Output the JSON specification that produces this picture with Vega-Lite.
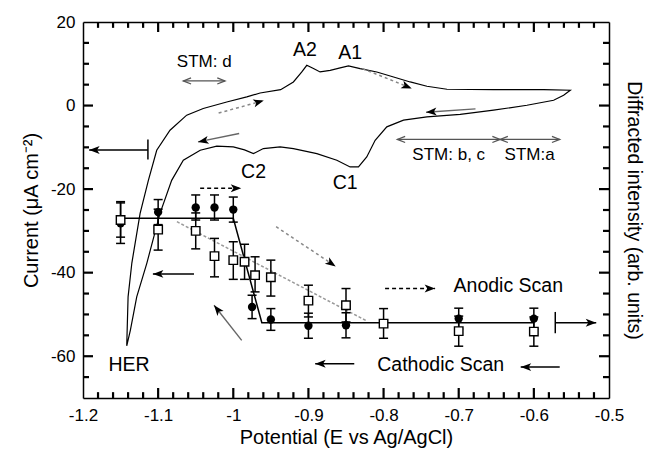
{
  "$schema": "https://vega.github.io/schema/vega-lite/v6.json",
  "width": 526,
  "height": 376,
  "autosize": "none",
  "padding": {"left": 83, "top": 22, "right": 37, "bottom": 52},
  "background": "white",
  "config": {
    "font": "Liberation Sans",
    "view": {"stroke": null},
    "axis": {
      "grid": false,
      "domainColor": "black",
      "domainWidth": 1.5,
      "labelColor": "black",
      "titleColor": "black",
      "labelFont": "Liberation Sans",
      "titleFont": "Liberation Sans",
      "labelFontSize": 17,
      "titleFontSize": 20,
      "titleFontWeight": "normal",
      "labelOverlap": false
    }
  },
  "datasets": {
    "xticks": [
      {"v": -1.1, "major": true}, {"v": -1.0, "major": true}, {"v": -0.9, "major": true}, {"v": -0.8, "major": true}, {"v": -0.7, "major": true}, {"v": -0.6, "major": true},
      {"v": -1.18, "major": false}, {"v": -1.16, "major": false}, {"v": -1.14, "major": false}, {"v": -1.12, "major": false}, {"v": -1.08, "major": false}, {"v": -1.06, "major": false}, {"v": -1.04, "major": false}, {"v": -1.02, "major": false}, {"v": -0.98, "major": false}, {"v": -0.96, "major": false}, {"v": -0.94, "major": false}, {"v": -0.92, "major": false}, {"v": -0.88, "major": false}, {"v": -0.86, "major": false}, {"v": -0.84, "major": false}, {"v": -0.82, "major": false}, {"v": -0.78, "major": false}, {"v": -0.76, "major": false}, {"v": -0.74, "major": false}, {"v": -0.72, "major": false}, {"v": -0.68, "major": false}, {"v": -0.66, "major": false}, {"v": -0.64, "major": false}, {"v": -0.62, "major": false}, {"v": -0.58, "major": false}, {"v": -0.56, "major": false}, {"v": -0.54, "major": false}, {"v": -0.52, "major": false}
    ],
    "yticks": [
      {"v": -60, "major": true}, {"v": -40, "major": true}, {"v": -20, "major": true}, {"v": 0, "major": true},
      {"v": -65, "major": false}, {"v": -55, "major": false}, {"v": -50, "major": false}, {"v": -45, "major": false}, {"v": -35, "major": false}, {"v": -30, "major": false}, {"v": -25, "major": false}, {"v": -15, "major": false}, {"v": -10, "major": false}, {"v": -5, "major": false}, {"v": 5, "major": false}, {"v": 10, "major": false}, {"v": 15, "major": false}
    ],
    "cv": [
      {"i": 1, "x": -1.1418, "y": -57.5},
      {"i": 2, "x": -1.140, "y": -45.8},
      {"i": 3, "x": -1.135, "y": -37.7},
      {"i": 4, "x": -1.124, "y": -25.8},
      {"i": 5, "x": -1.113, "y": -17.9},
      {"i": 6, "x": -1.1019, "y": -10.7},
      {"i": 7, "x": -1.0842, "y": -5.9},
      {"i": 8, "x": -1.062, "y": -2.3},
      {"i": 9, "x": -1.040, "y": -0.7},
      {"i": 10, "x": -1.0087, "y": 0.86},
      {"i": 11, "x": -0.982, "y": 2.06},
      {"i": 12, "x": -0.9643, "y": 3.0},
      {"i": 13, "x": -0.937, "y": 3.8},
      {"i": 14, "x": -0.92, "y": 5.65},
      {"i": 15, "x": -0.9088, "y": 8.04},
      {"i": 16, "x": -0.9022, "y": 9.64},
      {"i": 17, "x": -0.8933, "y": 8.85},
      {"i": 18, "x": -0.8845, "y": 8.04},
      {"i": 19, "x": -0.8711, "y": 8.44},
      {"i": 20, "x": -0.8578, "y": 9.0},
      {"i": 21, "x": -0.8467, "y": 9.48},
      {"i": 22, "x": -0.8312, "y": 8.85},
      {"i": 23, "x": -0.809, "y": 8.04},
      {"i": 24, "x": -0.7867, "y": 6.84},
      {"i": 25, "x": -0.7646, "y": 5.65},
      {"i": 26, "x": -0.7423, "y": 4.62},
      {"i": 27, "x": -0.7157, "y": 3.9},
      {"i": 28, "x": -0.6536, "y": 3.83},
      {"i": 29, "x": -0.587, "y": 3.83},
      {"i": 30, "x": -0.5515, "y": 3.66},
      {"i": 31, "x": -0.5604, "y": 2.46},
      {"i": 32, "x": -0.5737, "y": 1.27},
      {"i": 33, "x": -0.6092, "y": 0.07},
      {"i": 34, "x": -0.6536, "y": -1.1},
      {"i": 35, "x": -0.698, "y": -2.1},
      {"i": 36, "x": -0.7423, "y": -2.7},
      {"i": 37, "x": -0.7735, "y": -3.5},
      {"i": 38, "x": -0.7957, "y": -5.1},
      {"i": 39, "x": -0.8112, "y": -8.3},
      {"i": 40, "x": -0.8224, "y": -12.3},
      {"i": 41, "x": -0.8334, "y": -14.7},
      {"i": 42, "x": -0.8445, "y": -14.7},
      {"i": 43, "x": -0.8622, "y": -13.1},
      {"i": 44, "x": -0.8888, "y": -11.5},
      {"i": 45, "x": -0.92, "y": -10.3},
      {"i": 46, "x": -0.9377, "y": -9.9},
      {"i": 47, "x": -0.96, "y": -10.3},
      {"i": 48, "x": -0.9732, "y": -11.5},
      {"i": 49, "x": -0.985, "y": -10.6},
      {"i": 50, "x": -1.0, "y": -9.9},
      {"i": 51, "x": -1.022, "y": -9.7},
      {"i": 52, "x": -1.044, "y": -10.7},
      {"i": 53, "x": -1.0665, "y": -13.1},
      {"i": 54, "x": -1.082, "y": -17.9},
      {"i": 55, "x": -1.0975, "y": -25.8},
      {"i": 56, "x": -1.115, "y": -37.7},
      {"i": 57, "x": -1.1285, "y": -45.8},
      {"i": 58, "x": -1.137, "y": -53.8},
      {"i": 59, "x": -1.1418, "y": -57.5}
    ],
    "fit": [
      {"i": 1, "x": -1.15, "y": -27},
      {"i": 2, "x": -1.0, "y": -27},
      {"i": 3, "x": -0.962, "y": -52},
      {"i": 4, "x": -0.6, "y": -52}
    ],
    "trend": [
      {"i": 1, "x": -1.075, "y": -27.8},
      {"i": 2, "x": -0.823, "y": -51.5}
    ],
    "pts": [
      {"type": "circle", "x": -1.15, "y": -28.2, "lo": -33.0, "hi": -23.0},
      {"type": "circle", "x": -1.1, "y": -25.5, "lo": -28.5, "hi": -22.5},
      {"type": "circle", "x": -1.05, "y": -24.4, "lo": -27.4, "hi": -21.4},
      {"type": "circle", "x": -1.025, "y": -24.4, "lo": -27.4, "hi": -21.4},
      {"type": "circle", "x": -1.0, "y": -24.9, "lo": -27.9, "hi": -21.9},
      {"type": "circle", "x": -0.975, "y": -48.2, "lo": -51.0, "hi": -45.4},
      {"type": "circle", "x": -0.95, "y": -51.2, "lo": -53.8, "hi": -48.6},
      {"type": "circle", "x": -0.9, "y": -52.7, "lo": -55.7, "hi": -49.7},
      {"type": "circle", "x": -0.85, "y": -52.6, "lo": -55.6, "hi": -49.6},
      {"type": "circle", "x": -0.7, "y": -51.0, "lo": -53.5, "hi": -48.5},
      {"type": "circle", "x": -0.6, "y": -51.0, "lo": -53.5, "hi": -48.5},
      {"type": "square", "x": -1.15, "y": -27.4, "lo": -31.5, "hi": -23.3},
      {"type": "square", "x": -1.1, "y": -29.7, "lo": -34.6, "hi": -24.8},
      {"type": "square", "x": -1.05, "y": -30.0, "lo": -34.3, "hi": -25.7},
      {"type": "square", "x": -1.025, "y": -36.05, "lo": -41.0, "hi": -31.8},
      {"type": "square", "x": -1.0, "y": -37.0, "lo": -41.6, "hi": -32.6},
      {"type": "square", "x": -0.985, "y": -37.4, "lo": -41.6, "hi": -33.2},
      {"type": "square", "x": -0.971, "y": -40.6, "lo": -44.6, "hi": -36.2},
      {"type": "square", "x": -0.95, "y": -41.1, "lo": -45.6, "hi": -37.0},
      {"type": "square", "x": -0.9, "y": -46.7, "lo": -50.6, "hi": -43.0},
      {"type": "square", "x": -0.85, "y": -47.8, "lo": -51.8, "hi": -43.8},
      {"type": "square", "x": -0.8, "y": -52.2, "lo": -55.7, "hi": -48.6},
      {"type": "square", "x": -0.7, "y": -54.0, "lo": -57.6, "hi": -50.4},
      {"type": "square", "x": -0.6, "y": -54.1, "lo": -57.6, "hi": -50.6}
    ],
    "arrows": [
      {"kind": "black", "x": -1.0523, "y": -40.3, "x2": -1.107, "y2": -40.3},
      {"kind": "black", "x": -0.839, "y": -61.8, "x2": -0.891, "y2": -61.8},
      {"kind": "black", "x": -0.5656, "y": -62.6, "x2": -0.6175, "y2": -62.6},
      {"kind": "black", "x": -1.1136, "y": -10.65, "x2": -1.1918, "y2": -10.65},
      {"kind": "black", "x": -0.5715, "y": -52.0, "x2": -0.517, "y2": -52.0},
      {"kind": "bar", "x": -1.1136, "y": -8.1, "x2": -1.1136, "y2": -12.9},
      {"kind": "bar", "x": -0.5715, "y": -49.4, "x2": -0.5715, "y2": -54.5},
      {"kind": "dash", "x": -1.0441, "y": -19.8, "x2": -0.9894, "y2": -19.8},
      {"kind": "dash", "x": -0.798, "y": -43.8, "x2": -0.7314, "y2": -43.8},
      {"kind": "dot", "x": -0.828, "y": 8.85, "x2": -0.7625, "y2": 4.1},
      {"kind": "dot", "x": -1.0195, "y": -1.8, "x2": -0.9594, "y2": 1.2},
      {"kind": "dot", "x": -0.943, "y": -29.0, "x2": -0.8637, "y2": -38.5},
      {"kind": "gray", "x": -0.6777, "y": -0.8, "x2": -0.7434, "y2": -1.6},
      {"kind": "gray", "x": -0.9922, "y": -6.7, "x2": -1.0469, "y2": -8.7},
      {"kind": "gray", "x": -0.9888, "y": -56.2, "x2": -1.0256, "y2": -47.8},
      {"kind": "stm", "x": -1.0665, "y": 5.9, "x2": -1.011, "y2": 5.9},
      {"kind": "stm", "x": -0.7816, "y": -8.1, "x2": -0.6449, "y2": -8.1},
      {"kind": "stm", "x": -0.6449, "y": -8.1, "x2": -0.5656, "y2": -8.1}
    ],
    "labels": [
      {"x": -0.9047, "y": 13.2, "text": "A2"},
      {"x": -0.8445, "y": 12.6, "text": "A1"},
      {"x": -0.973, "y": -15.8, "text": "C2"},
      {"x": -0.851, "y": -18.6, "text": "C1"},
      {"x": -1.1387, "y": -62.2, "text": "HER"},
      {"x": -0.634, "y": -43.3, "text": "Anodic Scan"},
      {"x": -0.724, "y": -62.2, "text": "Cathodic Scan"}
    ],
    "stmlabels": [
      {"x": -1.0387, "y": 10.4, "text": "STM: d"},
      {"x": -0.7133, "y": -11.85, "text": "STM: b, c"},
      {"x": -0.6056, "y": -11.85, "text": "STM:a"}
    ]
  },
  "resolve": {"axis": {"x": "independent", "y": "independent"}},
  "layer": [
    {
      "data": {"name": "cv"},
      "mark": {"type": "line", "color": "black", "strokeWidth": 1.2},
      "encoding": {
        "x": {"field": "x", "type": "quantitative", "scale": {"domain": [-1.2, -0.5], "nice": false, "zero": false},
          "axis": {"orient": "bottom", "values": [-1.2, -1.1, -1, -0.9, -0.8, -0.7, -0.6, -0.5], "ticks": false, "labelPadding": 9, "labelFlush": false, "format": ".1~f", "labelExpr": "replace(datum.label, '\u2212', '-')", "title": "Potential (E vs Ag/AgCl)", "titlePadding": 4}},
        "y": {"field": "y", "type": "quantitative", "scale": {"domain": [-70, 20], "nice": false, "zero": false},
          "axis": {"orient": "left", "values": [-60, -40, -20, 0, 20], "ticks": false, "labelPadding": 8, "labelExpr": "replace(datum.label, '\u2212', '-')", "title": "Current (μA cm⁻²)", "titlePadding": 9}},
        "order": {"field": "i", "type": "quantitative"}
      }
    },
    {
      "data": {"name": "fit"},
      "mark": {"type": "line", "color": "black", "strokeWidth": 1.5},
      "encoding": {
        "x": {"field": "x", "type": "quantitative", "scale": {"domain": [-1.2, -0.5], "nice": false, "zero": false},
          "axis": {"orient": "top", "ticks": false, "labels": false, "domain": true, "title": null}},
        "y": {"field": "y", "type": "quantitative", "scale": {"domain": [-70, 20], "nice": false, "zero": false},
          "axis": {"orient": "right", "ticks": false, "labels": false, "domain": true, "title": "Diffracted  intensity  (arb.  units)", "titleAngle": 90, "titlePadding": 14, "titleFontSize": 19.5}},
        "order": {"field": "i", "type": "quantitative"}
      }
    },
    {
      "data": {"name": "xticks"},
      "transform": [
        {"calculate": "-70", "as": "b0"},
        {"calculate": "datum.major ? -67.6 : -68.6", "as": "b1"},
        {"calculate": "20", "as": "t0"},
        {"calculate": "datum.major ? 17.6 : 18.6", "as": "t1"}
      ],
      "layer": [
        {
          "mark": {"type": "rule", "color": "black", "strokeWidth": 2.2},
          "encoding": {
            "x": {"field": "v", "type": "quantitative", "scale": {"domain": [-1.2, -0.5], "nice": false, "zero": false}, "axis": null},
            "y": {"field": "b0", "type": "quantitative", "scale": {"domain": [-70, 20], "nice": false, "zero": false}, "axis": null},
            "y2": {"field": "b1"}
          }
        },
        {
          "mark": {"type": "rule", "color": "black", "strokeWidth": 2.2},
          "encoding": {
            "x": {"field": "v", "type": "quantitative", "scale": {"domain": [-1.2, -0.5], "nice": false, "zero": false}, "axis": null},
            "y": {"field": "t0", "type": "quantitative", "scale": {"domain": [-70, 20], "nice": false, "zero": false}, "axis": null},
            "y2": {"field": "t1"}
          }
        }
      ]
    },
    {
      "data": {"name": "yticks"},
      "transform": [
        {"calculate": "-1.2", "as": "l0"},
        {"calculate": "datum.major ? -1.1867 : -1.192", "as": "l1"},
        {"calculate": "-0.5", "as": "r0"},
        {"calculate": "datum.major ? -0.5133 : -0.508", "as": "r1"}
      ],
      "layer": [
        {
          "mark": {"type": "rule", "color": "black", "strokeWidth": 2.2},
          "encoding": {
            "y": {"field": "v", "type": "quantitative", "scale": {"domain": [-70, 20], "nice": false, "zero": false}, "axis": null},
            "x": {"field": "l0", "type": "quantitative", "scale": {"domain": [-1.2, -0.5], "nice": false, "zero": false}, "axis": null},
            "x2": {"field": "l1"}
          }
        },
        {
          "mark": {"type": "rule", "color": "black", "strokeWidth": 2.2},
          "encoding": {
            "y": {"field": "v", "type": "quantitative", "scale": {"domain": [-70, 20], "nice": false, "zero": false}, "axis": null},
            "x": {"field": "r0", "type": "quantitative", "scale": {"domain": [-1.2, -0.5], "nice": false, "zero": false}, "axis": null},
            "x2": {"field": "r1"}
          }
        }
      ]
    },
    {
      "data": {"name": "trend"},
      "mark": {"type": "line", "color": "#999999", "strokeWidth": 1.5, "strokeDash": [3, 2]},
      "encoding": {
        "x": {"field": "x", "type": "quantitative", "scale": {"domain": [-1.2, -0.5], "nice": false, "zero": false}, "axis": null},
        "y": {"field": "y", "type": "quantitative", "scale": {"domain": [-70, 20], "nice": false, "zero": false}, "axis": null},
        "order": {"field": "i", "type": "quantitative"}
      }
    },
    {
      "data": {"name": "pts"},
      "mark": {"type": "rule", "color": "black", "strokeWidth": 1.5},
      "encoding": {
        "x": {"field": "x", "type": "quantitative", "scale": {"domain": [-1.2, -0.5], "nice": false, "zero": false}, "axis": null},
        "y": {"field": "lo", "type": "quantitative", "scale": {"domain": [-70, 20], "nice": false, "zero": false}, "axis": null},
        "y2": {"field": "hi"}
      }
    },
    {
      "data": {"name": "pts"},
      "mark": {"type": "tick", "color": "black", "orient": "horizontal", "size": 9, "thickness": 1.5, "opacity": 1},
      "encoding": {
        "x": {"field": "x", "type": "quantitative", "scale": {"domain": [-1.2, -0.5], "nice": false, "zero": false}, "axis": null},
        "y": {"field": "lo", "type": "quantitative", "scale": {"domain": [-70, 20], "nice": false, "zero": false}, "axis": null}
      }
    },
    {
      "data": {"name": "pts"},
      "mark": {"type": "tick", "color": "black", "orient": "horizontal", "size": 9, "thickness": 1.5, "opacity": 1},
      "encoding": {
        "x": {"field": "x", "type": "quantitative", "scale": {"domain": [-1.2, -0.5], "nice": false, "zero": false}, "axis": null},
        "y": {"field": "hi", "type": "quantitative", "scale": {"domain": [-70, 20], "nice": false, "zero": false}, "axis": null}
      }
    },
    {
      "data": {"name": "pts"},
      "transform": [{"filter": "datum.type == 'circle'"}],
      "mark": {"type": "point", "shape": "circle", "filled": true, "color": "black", "size": 70, "opacity": 1},
      "encoding": {
        "x": {"field": "x", "type": "quantitative", "scale": {"domain": [-1.2, -0.5], "nice": false, "zero": false}, "axis": null},
        "y": {"field": "y", "type": "quantitative", "scale": {"domain": [-70, 20], "nice": false, "zero": false}, "axis": null}
      }
    },
    {
      "data": {"name": "pts"},
      "transform": [{"filter": "datum.type == 'square'"}],
      "mark": {"type": "point", "shape": "square", "filled": true, "fill": "white", "stroke": "black", "strokeWidth": 1.4, "size": 72, "opacity": 1},
      "encoding": {
        "x": {"field": "x", "type": "quantitative", "scale": {"domain": [-1.2, -0.5], "nice": false, "zero": false}, "axis": null},
        "y": {"field": "y", "type": "quantitative", "scale": {"domain": [-70, 20], "nice": false, "zero": false}, "axis": null}
      }
    },
    {
      "data": {"name": "arrows"},
      "transform": [{"filter": "datum.kind == 'black' || datum.kind == 'bar'"}],
      "mark": {"type": "rule", "color": "black", "strokeWidth": 1.5},
      "encoding": {
        "x": {"field": "x", "type": "quantitative", "scale": {"domain": [-1.2, -0.5], "nice": false, "zero": false}, "axis": null},
        "y": {"field": "y", "type": "quantitative", "scale": {"domain": [-70, 20], "nice": false, "zero": false}, "axis": null},
        "x2": {"field": "x2"},
        "y2": {"field": "y2"}
      }
    },
    {
      "data": {"name": "arrows"},
      "transform": [{"filter": "datum.kind == 'dash'"}],
      "mark": {"type": "rule", "color": "black", "strokeWidth": 1.5, "strokeDash": [4, 3]},
      "encoding": {
        "x": {"field": "x", "type": "quantitative", "scale": {"domain": [-1.2, -0.5], "nice": false, "zero": false}, "axis": null},
        "y": {"field": "y", "type": "quantitative", "scale": {"domain": [-70, 20], "nice": false, "zero": false}, "axis": null},
        "x2": {"field": "x2"},
        "y2": {"field": "y2"}
      }
    },
    {
      "data": {"name": "arrows"},
      "transform": [{"filter": "datum.kind == 'dot'"}],
      "mark": {"type": "rule", "color": "#888888", "strokeWidth": 1.5, "strokeDash": [3, 3]},
      "encoding": {
        "x": {"field": "x", "type": "quantitative", "scale": {"domain": [-1.2, -0.5], "nice": false, "zero": false}, "axis": null},
        "y": {"field": "y", "type": "quantitative", "scale": {"domain": [-70, 20], "nice": false, "zero": false}, "axis": null},
        "x2": {"field": "x2"},
        "y2": {"field": "y2"}
      }
    },
    {
      "data": {"name": "arrows"},
      "transform": [{"filter": "datum.kind == 'gray'"}],
      "mark": {"type": "rule", "color": "#666666", "strokeWidth": 1.4},
      "encoding": {
        "x": {"field": "x", "type": "quantitative", "scale": {"domain": [-1.2, -0.5], "nice": false, "zero": false}, "axis": null},
        "y": {"field": "y", "type": "quantitative", "scale": {"domain": [-70, 20], "nice": false, "zero": false}, "axis": null},
        "x2": {"field": "x2"},
        "y2": {"field": "y2"}
      }
    },
    {
      "data": {"name": "arrows"},
      "transform": [{"filter": "datum.kind == 'stm'"}],
      "mark": {"type": "rule", "color": "#555555", "strokeWidth": 1.3},
      "encoding": {
        "x": {"field": "x", "type": "quantitative", "scale": {"domain": [-1.2, -0.5], "nice": false, "zero": false}, "axis": null},
        "y": {"field": "y", "type": "quantitative", "scale": {"domain": [-70, 20], "nice": false, "zero": false}, "axis": null},
        "x2": {"field": "x2"},
        "y2": {"field": "y2"}
      }
    },
    {
      "data": {"name": "arrows"},
      "transform": [
        {"filter": "datum.kind != 'stm' && datum.kind != 'bar'"},
        {"calculate": "atan2(-(datum.y2 - datum.y) * 4.178, (datum.x2 - datum.x) * 751.4) * 180 / PI", "as": "ang"}
      ],
      "mark": {"type": "point", "shape": "M0,0L-2,-0.75L-1.5,0L-2,0.75Z", "filled": true, "color": "black", "size": 110, "opacity": 1},
      "encoding": {
        "x": {"field": "x2", "type": "quantitative", "scale": {"domain": [-1.2, -0.5], "nice": false, "zero": false}, "axis": null},
        "y": {"field": "y2", "type": "quantitative", "scale": {"domain": [-70, 20], "nice": false, "zero": false}, "axis": null},
        "angle": {"field": "ang", "type": "quantitative", "scale": null}
      }
    },
    {
      "data": {"name": "arrows"},
      "transform": [
        {"filter": "datum.kind == 'stm'"},
        {"calculate": "atan2(-(datum.y2 - datum.y) * 4.178, (datum.x2 - datum.x) * 751.4) * 180 / PI", "as": "ang"}
      ],
      "mark": {"type": "point", "shape": "M-2,-0.8L0,0L-2,0.8", "filled": false, "fill": null, "stroke": "#555555", "strokeWidth": 1.3, "size": 60, "opacity": 1},
      "encoding": {
        "x": {"field": "x2", "type": "quantitative", "scale": {"domain": [-1.2, -0.5], "nice": false, "zero": false}, "axis": null},
        "y": {"field": "y2", "type": "quantitative", "scale": {"domain": [-70, 20], "nice": false, "zero": false}, "axis": null},
        "angle": {"field": "ang", "type": "quantitative", "scale": null}
      }
    },
    {
      "data": {"name": "arrows"},
      "transform": [
        {"filter": "datum.kind == 'stm'"},
        {"calculate": "atan2(-(datum.y - datum.y2) * 4.178, (datum.x - datum.x2) * 751.4) * 180 / PI", "as": "ang"}
      ],
      "mark": {"type": "point", "shape": "M-2,-0.8L0,0L-2,0.8", "filled": false, "fill": null, "stroke": "#555555", "strokeWidth": 1.3, "size": 60, "opacity": 1},
      "encoding": {
        "x": {"field": "x", "type": "quantitative", "scale": {"domain": [-1.2, -0.5], "nice": false, "zero": false}, "axis": null},
        "y": {"field": "y", "type": "quantitative", "scale": {"domain": [-70, 20], "nice": false, "zero": false}, "axis": null},
        "angle": {"field": "ang", "type": "quantitative", "scale": null}
      }
    },
    {
      "data": {"name": "labels"},
      "mark": {"type": "text", "font": "Liberation Sans", "fontSize": 19.5, "color": "black", "align": "center", "baseline": "middle"},
      "encoding": {
        "x": {"field": "x", "type": "quantitative", "scale": {"domain": [-1.2, -0.5], "nice": false, "zero": false}, "axis": null},
        "y": {"field": "y", "type": "quantitative", "scale": {"domain": [-70, 20], "nice": false, "zero": false}, "axis": null},
        "text": {"field": "text"}
      }
    },
    {
      "data": {"name": "stmlabels"},
      "mark": {"type": "text", "font": "Liberation Sans", "fontSize": 17, "color": "black", "align": "center", "baseline": "middle"},
      "encoding": {
        "x": {"field": "x", "type": "quantitative", "scale": {"domain": [-1.2, -0.5], "nice": false, "zero": false}, "axis": null},
        "y": {"field": "y", "type": "quantitative", "scale": {"domain": [-70, 20], "nice": false, "zero": false}, "axis": null},
        "text": {"field": "text"}
      }
    }
  ]
}
